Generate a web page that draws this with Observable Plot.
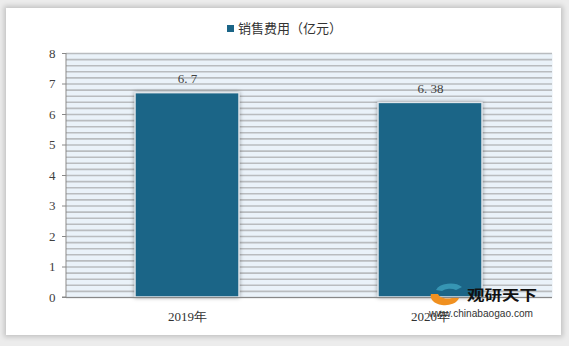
<!DOCTYPE html>
<html><head><meta charset="utf-8">
<script src="https://cdn.jsdelivr.net/npm/d3@7"></script>
<script src="https://cdn.jsdelivr.net/npm/@observablehq/plot@0.6"></script>
<style>
html,body{margin:0;padding:0;background:#e8e8e8;}
#wrap{position:relative;width:569px;height:346px;overflow:hidden;background:#ececec;}
#card{position:absolute;left:6px;top:8px;width:555px;height:327px;background:#fff;box-shadow:0 0 5px 2px rgba(0,0,0,0.18);}
#legend{position:absolute;top:18px;left:0;width:569px;text-align:center;font:13px "Noto Sans CJK SC",sans-serif;color:#333;}
#legend span.sw{display:inline-block;width:7px;height:7px;background:#1b6587;margin-right:4px;vertical-align:1px;}
#plot{position:absolute;left:0;top:40px;}
#plot g[aria-label="bar"] rect{filter:drop-shadow(0 0 2px rgba(0,0,0,0.35));}
#wm{position:absolute;left:0;top:0;width:569px;height:346px;pointer-events:none;}
</style></head>
<body><div id="wrap"><div id="card"></div><div id="legend"></div><div id="plot"></div><svg id="wm" width="569" height="346"></svg></div>
<script>
const years = ["2019年", "2020年"];
const sales = [6.7, 6.38];
const labels = ["6. 7", "6. 38"];
const yTicks = [0, 1, 2, 3, 4, 5, 6, 7, 8];
const seriesName = "销售费用（亿元）";

document.getElementById("legend").innerHTML = '<span class="sw"></span>' + seriesName;

const data = years.map((y, i) => ({year: y, value: sales[i], label: labels[i]}));
const stripes = d3.range(0, 41).map(i => i * 0.2);

const chart = Plot.plot({
  width: 569,
  height: 300,
  marginLeft: 66,
  marginRight: 17,
  marginTop: 13,
  marginBottom: 43,
  style: {background: "transparent", fontFamily: "'Liberation Serif', serif", fontSize: "13px", color: "#404040"},
  x: {domain: years, paddingInner: 0.572, paddingOuter: 0.286, label: null},
  y: {domain: [0, 8], ticks: yTicks, label: null},
  marks: [
    Plot.frame({fill: "#eaf2f9", stroke: null}),
    Plot.ruleY(stripes, {stroke: "#b9bcbf", strokeWidth: 1.6}),
    Plot.axisY({ticks: yTicks, tickSize: 4, tickPadding: 7, stroke: "#888", fill: "#404040", fontSize: 13}),
    Plot.barY(data, {x: "year", y: "value", fill: "#1b6587", stroke: "#dfe5ea", strokeWidth: 1.5}),
    Plot.text(data, {x: "year", y: "value", text: "label", dy: -14, fill: "#404040", fontSize: 13}),
    Plot.axisX({tickSize: 0, tickPadding: 14, fill: "#333", fontSize: 13}),
    Plot.ruleY([0], {stroke: "#888", strokeWidth: 1.2})
  ]
});
document.getElementById("plot").appendChild(chart);

// y-axis line
const svg = d3.select(chart);
svg.append("line").attr("x1", 66).attr("x2", 66).attr("y1", 13).attr("y2", 257).attr("stroke", "#888");
svg.append("line").attr("x1", 62).attr("x2", 66).attr("y1", 257).attr("y2", 257).attr("stroke", "#888");

// watermark
const wm = d3.select("#wm");
wm.append("path").attr("d", "M431 294 A14 9 0 0 0 459 298 L452 298 A10 6 0 0 1 438 294 Z").attr("fill", "#f09020");
wm.append("path").attr("d", "M436 290 A15 9 0 0 1 462 287 L456 290 A10 6 0 0 0 442 291 Z").attr("fill", "#3a9ab8").attr("opacity", 0.9);
wm.append("text").attr("x", 467).attr("y", 300).text("观研天下").attr("textLength", 70).attr("lengthAdjust", "spacingAndGlyphs").attr("font-family", "'Noto Sans CJK SC',sans-serif").attr("font-weight", "bold").attr("font-size", 14).attr("fill", "#111");
wm.append("text").attr("x", 429).attr("y", 317).text("www.chinabaogao.com").attr("textLength", 104).attr("lengthAdjust", "spacingAndGlyphs").attr("font-family", "'Liberation Sans',Arial,sans-serif").attr("font-size", 11).attr("fill", "#333");
</script></body></html>
